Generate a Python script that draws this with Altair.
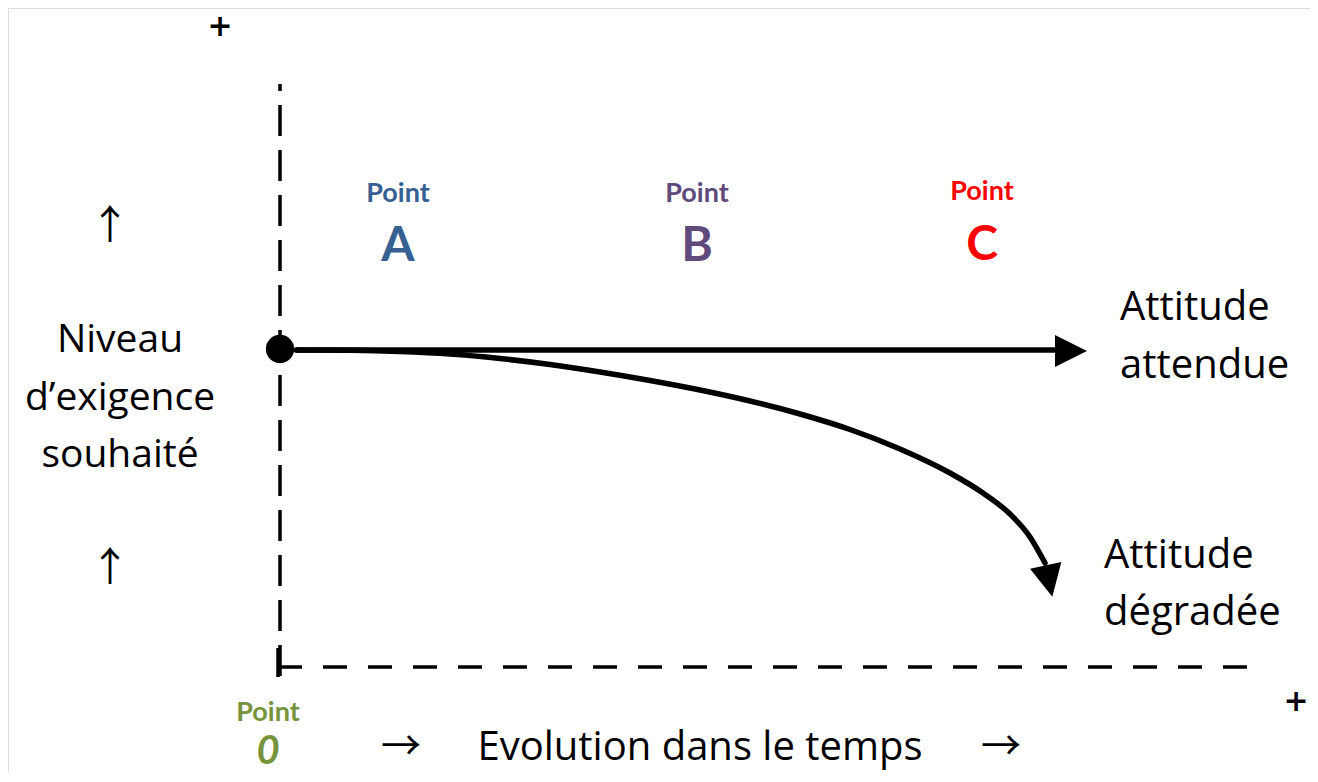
import altair as alt
import pandas as pd

# ---------------- diagram data ----------------
# dashed vertical axis and dashed horizontal axis
vaxis_x = [280, 280]
vaxis_y = [84, 677]
haxis_x = [280, 1258]
haxis_y = [667, 667]
corner_x = [278, 278]
corner_y = [648, 677]

# "Attitude attendue" : straight arrow
target_x = [296, 1058]
target_y = [350, 350]

# "Attitude dégradée" : curved arrow
curve_x = [296, 350, 400, 450, 500, 550, 600, 650, 700, 750, 800, 850, 900, 950, 983, 1010, 1030, 1045]
curve_y = [350, 350.3, 351.5, 354, 358.5, 364.5, 372, 380.5, 390, 401, 414, 429.5, 449, 473, 493, 514, 537, 563]

# arrow heads
head_x = [1071, 1049]
head_y = [351, 581]
head_dir = [0, 78]

# origin dot
origin_x = [280]
origin_y = [349]

# texts
left_lines = ["Niveau", "d\u2019exigence", "souhaité"]
left_x = [120, 120, 120]
left_y = [340, 398, 455]

right_lines = ["Attitude", "attendue", "Attitude", "dégradée"]
right_x = [1120, 1120, 1104, 1104]
right_y = [308, 366, 556, 613]

time_label = ["Evolution dans le temps"]
time_x = [700]
time_y = [748]

plus_signs = ["+", "+"]
plus_x = [220, 1296]
plus_y = [27, 702]

arrows = ["\u2191", "\u2191", "\u2192", "\u2192"]
arrow_x = [110, 110, 401, 1001]
arrow_y = [227, 569, 748, 748]

point_names = ["A", "B", "C"]
point_x = [398, 697, 982]
point_word_y = [194, 194, 192]
point_letter_y = [247, 247, 246]
point_colors = ["#376092", "#604A7B", "#FF0000"]

zero_word = ["Point"]
zero_letter = ["0"]
zero_x = [268]
zero_word_y = [713]
zero_letter_y = [752]
zero_color = "#77933C"

# ---------------- chart ----------------
W, H = 1302, 764
X = alt.Scale(domain=[8, 8 + W], zero=False, nice=False)
Y = alt.Scale(domain=[8, 8 + H], zero=False, nice=False, reverse=True)


def xe(f="x"):
    return alt.X(f"{f}:Q", scale=X, axis=None)


def ye(f="y"):
    return alt.Y(f"{f}:Q", scale=Y, axis=None)


def seg(xs, ys):
    return pd.DataFrame({"x": [xs[0]], "x2": [xs[1]], "y": [ys[0]], "y2": [ys[1]]})


vaxis = alt.Chart(seg(vaxis_x, vaxis_y)).mark_rule(
    color="black", strokeWidth=3.5, strokeDash=[31, 14], strokeDashOffset=24
).encode(x=xe(), y=ye(), y2="y2:Q")

haxis = alt.Chart(seg(haxis_x, haxis_y)).mark_rule(
    color="black", strokeWidth=3.5, strokeDash=[24, 21], strokeDashOffset=2
).encode(x=xe(), x2="x2:Q", y=ye())

corner = alt.Chart(seg(corner_x, corner_y)).mark_rule(
    color="black", strokeWidth=3.5
).encode(x=xe(), y=ye(), y2="y2:Q")

target = alt.Chart(seg(target_x, target_y)).mark_rule(
    color="black", strokeWidth=5.5
).encode(x=xe(), x2="x2:Q", y=ye())

curve = alt.Chart(pd.DataFrame({"x": curve_x, "y": curve_y})).mark_line(
    color="black", strokeWidth=5.5, interpolate="monotone", strokeCap="round"
).encode(x=xe(), y=ye())

heads = alt.Chart(pd.DataFrame({"x": head_x, "y": head_y, "a": head_dir})).mark_point(
    shape="M-1,-1L1,0L-1,1Z", filled=True, color="black", opacity=1, size=1024, strokeWidth=0
).encode(x=xe(), y=ye(), angle=alt.Angle("a:Q", scale=None))

dot = alt.Chart(pd.DataFrame({"x": origin_x, "y": origin_y})).mark_circle(
    color="black", opacity=1, size=800
).encode(x=xe(), y=ye())

FONT = "Open Sans"
BOLD = "Lato"

left_txt = alt.Chart(pd.DataFrame({"x": left_x, "y": left_y, "t": left_lines})).mark_text(
    font=FONT, fontSize=39, align="center", baseline="middle", color="black"
).encode(x=xe(), y=ye(), text="t:N")

right_txt = alt.Chart(pd.DataFrame({"x": right_x, "y": right_y, "t": right_lines})).mark_text(
    font=FONT, fontSize=40, align="left", baseline="middle", color="black"
).encode(x=xe(), y=ye(), text="t:N")

time_txt = alt.Chart(pd.DataFrame({"x": time_x, "y": time_y, "t": time_label})).mark_text(
    font=FONT, fontSize=40, align="center", baseline="middle", color="black"
).encode(x=xe(), y=ye(), text="t:N")

plus_txt = alt.Chart(pd.DataFrame({"x": plus_x, "y": plus_y, "t": plus_signs})).mark_text(
    font="DejaVu Sans", fontSize=30, fontWeight="bold", align="center", baseline="middle", color="black"
).encode(x=xe(), y=ye(), text="t:N")

arrow_txt = alt.Chart(pd.DataFrame({"x": arrow_x, "y": arrow_y, "t": arrows})).mark_text(
    font="Noto Sans CJK JP", fontSize=40, align="center", baseline="middle", color="black"
).encode(x=xe(), y=ye(), text="t:N")

pts = pd.DataFrame({"x": point_x, "yw": point_word_y, "yl": point_letter_y,
                    "t": point_names, "w": ["Point"] * 3, "c": point_colors})

pt_word = alt.Chart(pts).mark_text(
    font=BOLD, fontSize=27, fontWeight="bold", align="center", baseline="middle"
).encode(x=xe(), y=ye("yw"), text="w:N", color=alt.Color("c:N", scale=None))

pt_letter = alt.Chart(pts).mark_text(
    font=BOLD, fontSize=48, fontWeight="bold", align="center", baseline="middle"
).encode(x=xe(), y=ye("yl"), text="t:N", color=alt.Color("c:N", scale=None))

zero = pd.DataFrame({"x": zero_x, "yw": zero_word_y, "yl": zero_letter_y,
                     "w": zero_word, "t": zero_letter})

z_word = alt.Chart(zero).mark_text(
    font=BOLD, fontSize=27, fontWeight="bold", align="center", baseline="middle", color=zero_color
).encode(x=xe(), y=ye("yw"), text="w:N")

z_letter = alt.Chart(zero).mark_text(
    font=BOLD, fontSize=40, fontWeight="bold", fontStyle="italic", align="center",
    baseline="middle", color=zero_color
).encode(x=xe(), y=ye("yl"), text="t:N")

chart = alt.layer(
    vaxis, haxis, corner, target, curve, heads, dot,
    left_txt, right_txt, time_txt, plus_txt, arrow_txt, pt_word, pt_letter, z_word, z_letter
).properties(
    width=W, height=H, padding=0, autosize=alt.AutoSizeParams(type="none")
).configure_view(stroke="transparent", strokeWidth=0).configure(background="white")

chart.save("out.html", embed_options={"renderer": "svg", "actions": False})
